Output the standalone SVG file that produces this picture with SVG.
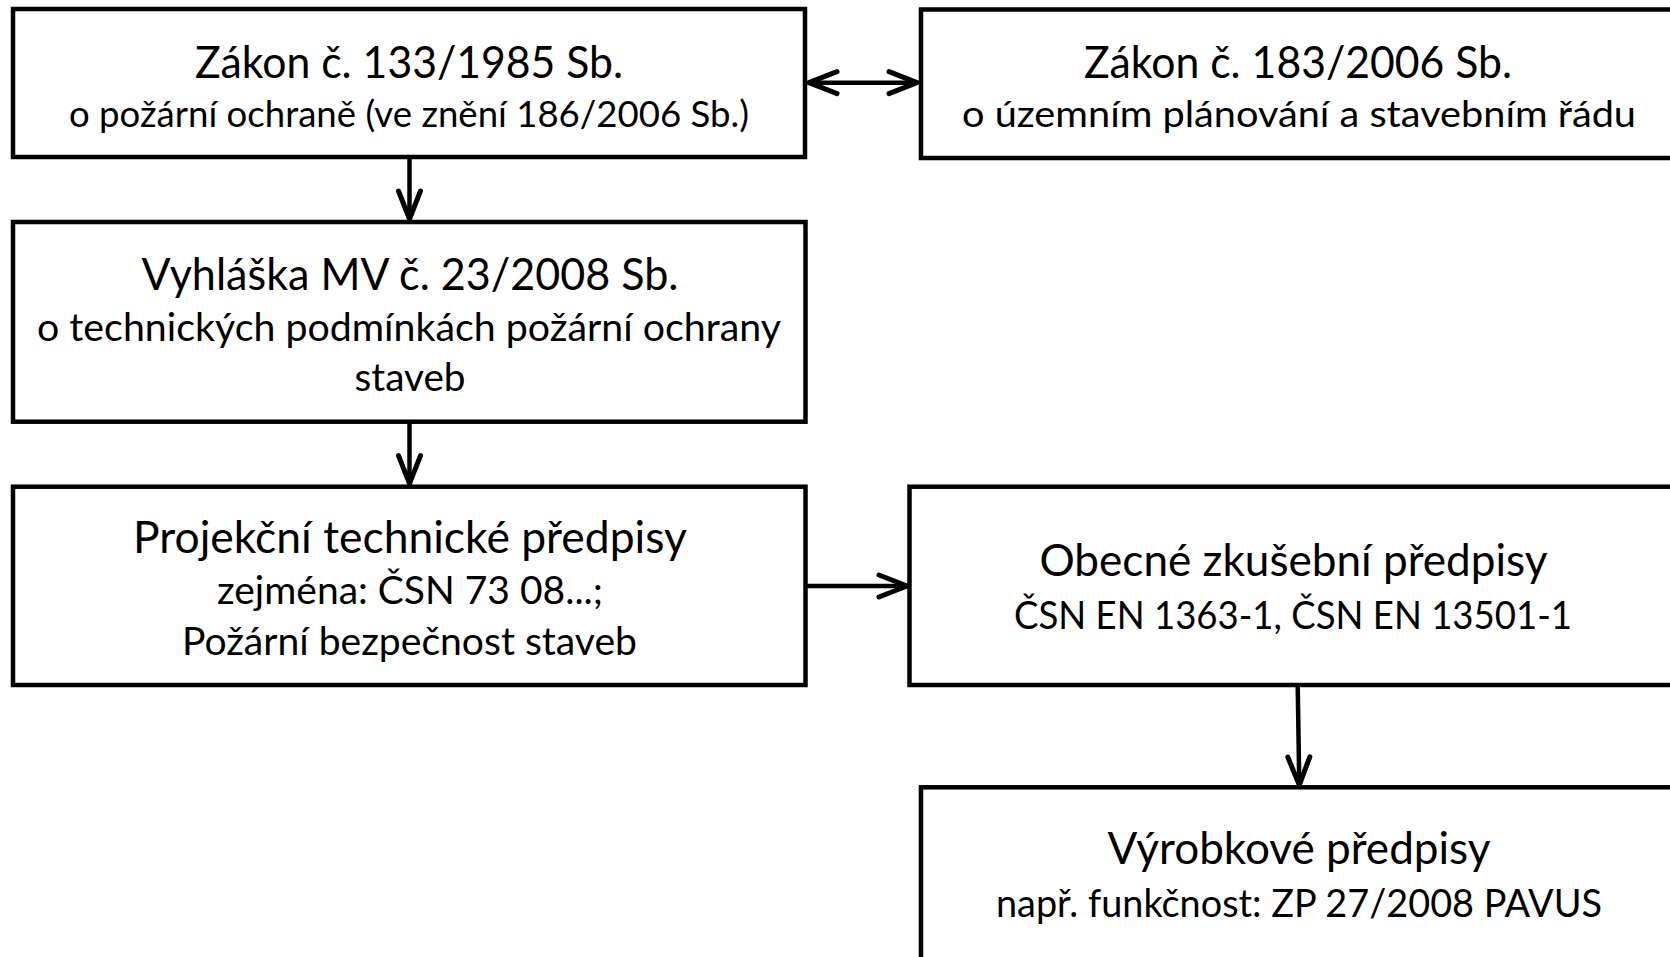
<svg xmlns="http://www.w3.org/2000/svg" width="1670" height="957" viewBox="0 0 1670 957">
<defs>
<style>
.box{fill:#fff;stroke:#000;stroke-width:4.5}
.t{font-family:Lato,"Liberation Sans",sans-serif;fill:#000;text-anchor:middle;font-size:44px}
.s{font-family:Lato,"Liberation Sans",sans-serif;fill:#000;text-anchor:middle;font-size:38px}
.c{fill:none;stroke:#000;stroke-width:4.5}
</style>
<marker id="ah" viewBox="-34 -15 38 30" refX="0" refY="0" markerWidth="38" markerHeight="30" markerUnits="userSpaceOnUse" orient="auto-start-reverse">
<path d="M -29 -11 L -1 0 L -29 11" fill="none" stroke="#000" stroke-width="5" stroke-linecap="round" stroke-linejoin="round"/>
</marker>
</defs>
<rect width="1670" height="957" fill="#fff"/>
<g id="connectors">
<line class="c" x1="808" y1="82.7" x2="918" y2="82.7" marker-start="url(#ah)" marker-end="url(#ah)"/>
<line class="c" x1="409.5" y1="157" x2="409.5" y2="220" marker-end="url(#ah)"/>
<line class="c" x1="409.5" y1="421.7" x2="409.5" y2="484.7" marker-end="url(#ah)"/>
<line class="c" x1="806" y1="586" x2="908" y2="586" marker-end="url(#ah)"/>
<line class="c" x1="1297.7" y1="685" x2="1299.3" y2="786" marker-end="url(#ah)"/>
</g>
<g id="n1">
<rect class="box" x="13" y="9" width="792" height="148"/>
<text class="t" x="409" y="77.5" textLength="428" lengthAdjust="spacingAndGlyphs">Zákon č. 133/1985 Sb.</text>
<text class="s" x="409" y="127" style="font-size:37px" textLength="680" lengthAdjust="spacingAndGlyphs">o požární ochraně (ve znění 186/2006 Sb.)</text>
</g>
<g id="n2">
<rect class="box" x="921" y="9.5" width="790" height="148.5"/>
<text class="t" x="1298" y="77.5" textLength="428" lengthAdjust="spacingAndGlyphs">Zákon č. 183/2006 Sb.</text>
<text class="s" x="1299" y="127" style="font-size:37px" textLength="674" lengthAdjust="spacingAndGlyphs">o územním plánování a stavebním řádu</text>
</g>
<g id="n3">
<rect class="box" x="13" y="222" width="792.5" height="199.7"/>
<text class="t" x="410" y="289.5" textLength="537" lengthAdjust="spacingAndGlyphs">Vyhláška MV č. 23/2008 Sb.</text>
<text class="s" x="409" y="341" textLength="744" lengthAdjust="spacingAndGlyphs">o technických podmínkách požární ochrany</text>
<text class="s" x="410" y="391" textLength="111" lengthAdjust="spacingAndGlyphs">staveb</text>
</g>
<g id="n4">
<rect class="box" x="13" y="486.7" width="792.5" height="198.3"/>
<text class="t" x="410" y="552.5" textLength="554" lengthAdjust="spacingAndGlyphs">Projekční technické předpisy</text>
<text class="s" x="410" y="604" style="font-size:39px" textLength="386" lengthAdjust="spacingAndGlyphs">zejména: ČSN 73 08...;</text>
<text class="s" x="409.5" y="655" style="font-size:39px" textLength="455" lengthAdjust="spacingAndGlyphs">Požární bezpečnost staveb</text>
</g>
<g id="n5">
<rect class="box" x="909.5" y="486.7" width="800" height="198.3"/>
<text class="t" x="1293.5" y="576" textLength="508" lengthAdjust="spacingAndGlyphs">Obecné zkušební předpisy</text>
<text class="s" x="1293" y="628.5" style="font-size:39px" textLength="558" lengthAdjust="spacingAndGlyphs">ČSN EN 1363-1, ČSN EN 13501-1</text>
</g>
<g id="n6">
<rect class="box" x="921" y="787.3" width="790" height="220"/>
<text class="t" x="1299" y="864" textLength="383" lengthAdjust="spacingAndGlyphs">Výrobkové předpisy</text>
<text class="s" x="1299" y="917" style="font-size:39px" textLength="606" lengthAdjust="spacingAndGlyphs">např. funkčnost: ZP 27/2008 PAVUS</text>
</g>
</svg>
